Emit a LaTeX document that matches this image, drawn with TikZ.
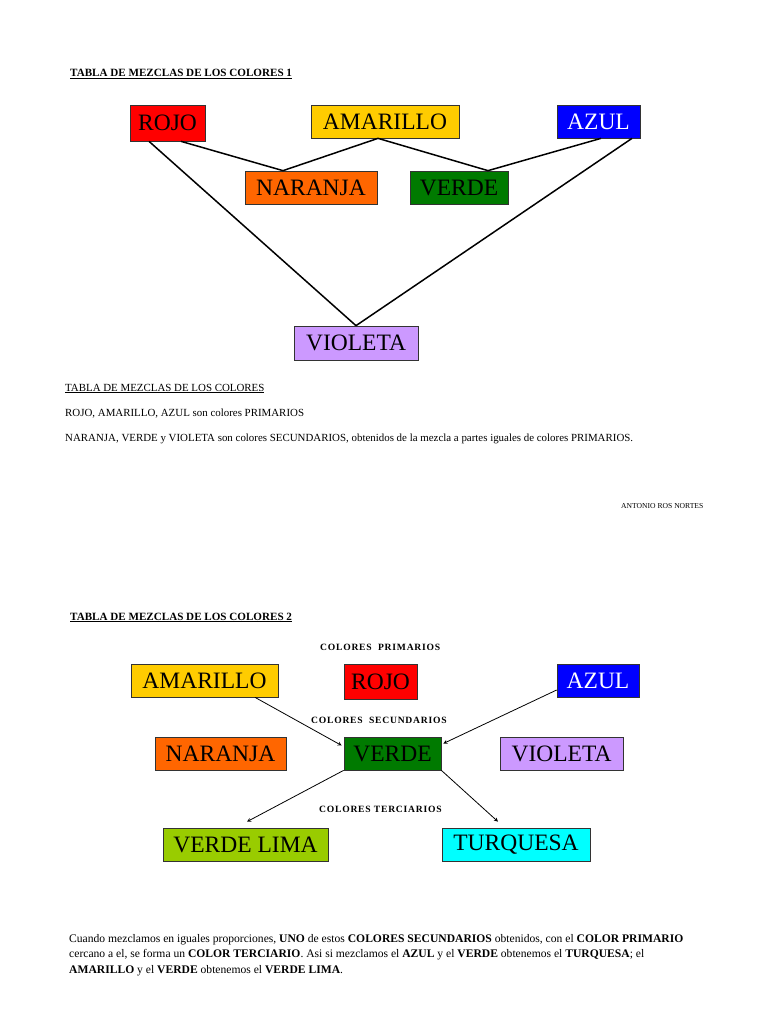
\documentclass[tikz,border=0pt]{standalone}
\usepackage{fontspec}
\setmainfont{Liberation Serif}
\newfontfamily\espaciado[LetterSpace=8]{Liberation Serif}
\usepackage{tikz}
\usetikzlibrary{arrows}

\definecolor{rojo}{HTML}{FF0000}
\definecolor{amarillo}{HTML}{FFCC00}
\definecolor{azul}{HTML}{0000FF}
\definecolor{naranja}{HTML}{FF6600}
\definecolor{verde}{HTML}{007A00}
\definecolor{violeta}{HTML}{CC99FF}
\definecolor{lima}{HTML}{99CC00}
\definecolor{turquesa}{HTML}{00FFFF}

\begin{document}
\begin{tikzpicture}[x=1pt, y=-1pt,
    caja/.style={rectangle, draw=black!80, line width=0.7pt, inner sep=0pt, text centered, minimum height=33pt, font=\fontsize{23.5}{24}\selectfont},
    texto/.style={anchor=base west, inner sep=0pt, font=\fontsize{10.9}{13}\selectfont},
    titulo/.style={anchor=base west, inner sep=0pt, font=\fontsize{11.1}{13}\selectfont\bfseries},
    grupo/.style={anchor=base west, inner sep=0pt, font=\fontsize{9.6}{11}\selectfont\bfseries\espaciado},
    linea/.style={line width=1.5pt},
    flecha/.style={->, >=stealth, line width=0.8pt}
]
\useasboundingbox (0,0) rectangle (768,1024);
\fill[white] (0,0) rectangle (768,1024);

% Tabla 1
\node[titulo] (titulo1) at (70,77) {\underline{TABLA DE MEZCLAS DE LOS COLORES 1}};

\node[caja, fill=rojo, minimum width=75pt, minimum height=36pt] (rojoA) at (167.5,123) {ROJO};
\node[caja, fill=amarillo, minimum width=148pt] (amarilloA) at (385,121.5) {AMARILLO};
\node[caja, fill=azul, text=white, minimum width=83pt] (azulA) at (598.5,121.5) {AZUL};
\node[caja, fill=naranja, minimum width=132pt] (naranjaA) at (311,187.5) {NARANJA};
\node[caja, fill=verde, minimum width=98pt] (verdeA) at (459,187.5) {VERDE};
\node[caja, fill=violeta, minimum width=124pt, minimum height=34pt] (violetaA) at (356,343) {VIOLETA};

\draw[linea] ([xshift=13.5pt]rojoA.south) -- ([xshift=-28pt]naranjaA.north);
\draw[linea] ([xshift=-7pt]amarilloA.south) -- ([xshift=-28pt]naranjaA.north);
\draw[linea] ([xshift=-7pt]amarilloA.south) -- ([xshift=29pt]verdeA.north);
\draw[linea] ([xshift=2.5pt]azulA.south) -- ([xshift=29pt]verdeA.north);
\draw[linea] ([xshift=-18.5pt]rojoA.south) -- (violetaA.north);
\draw[linea] ([xshift=33.5pt]azulA.south) -- (violetaA.north);

% Explicacion 1
\node[texto] (nota1) at (65,391) {\underline{TABLA DE MEZCLAS DE LOS COLORES}};
\node[texto] (nota2) at (65,416) {ROJO, AMARILLO, AZUL son colores PRIMARIOS};
\node[texto] (nota3) at (65,441) {NARANJA, VERDE y VIOLETA son colores SECUNDARIOS, obtenidos de la mezcla a partes iguales de colores PRIMARIOS.};
\node[texto, font=\fontsize{7.6}{8}\selectfont] (autor) at (621,508.5) {ANTONIO ROS NORTES};

% Tabla 2
\node[titulo] (titulo2) at (70,620) {\underline{TABLA DE MEZCLAS DE LOS COLORES 2}};
\node[grupo] (primarios) at (320,650) {COLORES \ PRIMARIOS};
\node[grupo] (secundarios) at (311,723) {COLORES \ SECUNDARIOS};
\node[grupo] (terciarios) at (319,812) {COLORES TERCIARIOS};

\node[caja, fill=amarillo, minimum width=147pt] (amarilloB) at (204.5,680.5) {AMARILLO};
\node[caja, fill=rojo, minimum width=73pt, minimum height=35pt] (rojoB) at (380.5,681.5) {ROJO};
\node[caja, fill=azul, text=white, minimum width=82pt] (azulB) at (598,680.5) {AZUL};
\node[caja, fill=naranja, minimum width=131pt] (naranjaB) at (220.5,753.5) {NARANJA};
\node[caja, fill=verde, minimum width=97pt] (verdeB) at (392.5,753.5) {VERDE};
\node[caja, fill=violeta, minimum width=123pt] (violetaB) at (561.5,753.5) {VIOLETA};
\node[caja, fill=lima, minimum width=165pt] (limaB) at (245.5,844.5) {VERDE LIMA};
\node[caja, fill=turquesa, minimum width=148pt] (turquesaB) at (516,844.5) {TURQUESA};

\draw[flecha] ([xshift=50.5pt]amarilloB.south) -- ([xshift=-2pt,yshift=8pt]verdeB.west);
\draw[flecha] ([yshift=-9.5pt]azulB.west) -- ([xshift=2pt,yshift=10pt]verdeB.east);
\draw[flecha] (verdeB.south west) -- ([xshift=1.5pt,yshift=6pt]limaB.north);
\draw[flecha] (verdeB.south east) -- ([xshift=-18pt,yshift=6pt]turquesaB.north);

% Explicacion 2
\node[anchor=north west, inner sep=0pt, align=left, font=\fontsize{11.6}{15.5}\selectfont] (parrafo) at (69,934)
  {Cuando mezclamos en iguales proporciones, \textbf{UNO} de estos \textbf{COLORES SECUNDARIOS} obtenidos, con el \textbf{COLOR PRIMARIO}\\
   cercano a el, se forma un \textbf{COLOR TERCIARIO}. Asi si mezclamos el \textbf{AZUL} y el \textbf{VERDE} obtenemos el \textbf{TURQUESA}; el\\
   \textbf{AMARILLO} y el \textbf{VERDE} obtenemos el \textbf{VERDE LIMA}.};

\end{tikzpicture}
\end{document}
